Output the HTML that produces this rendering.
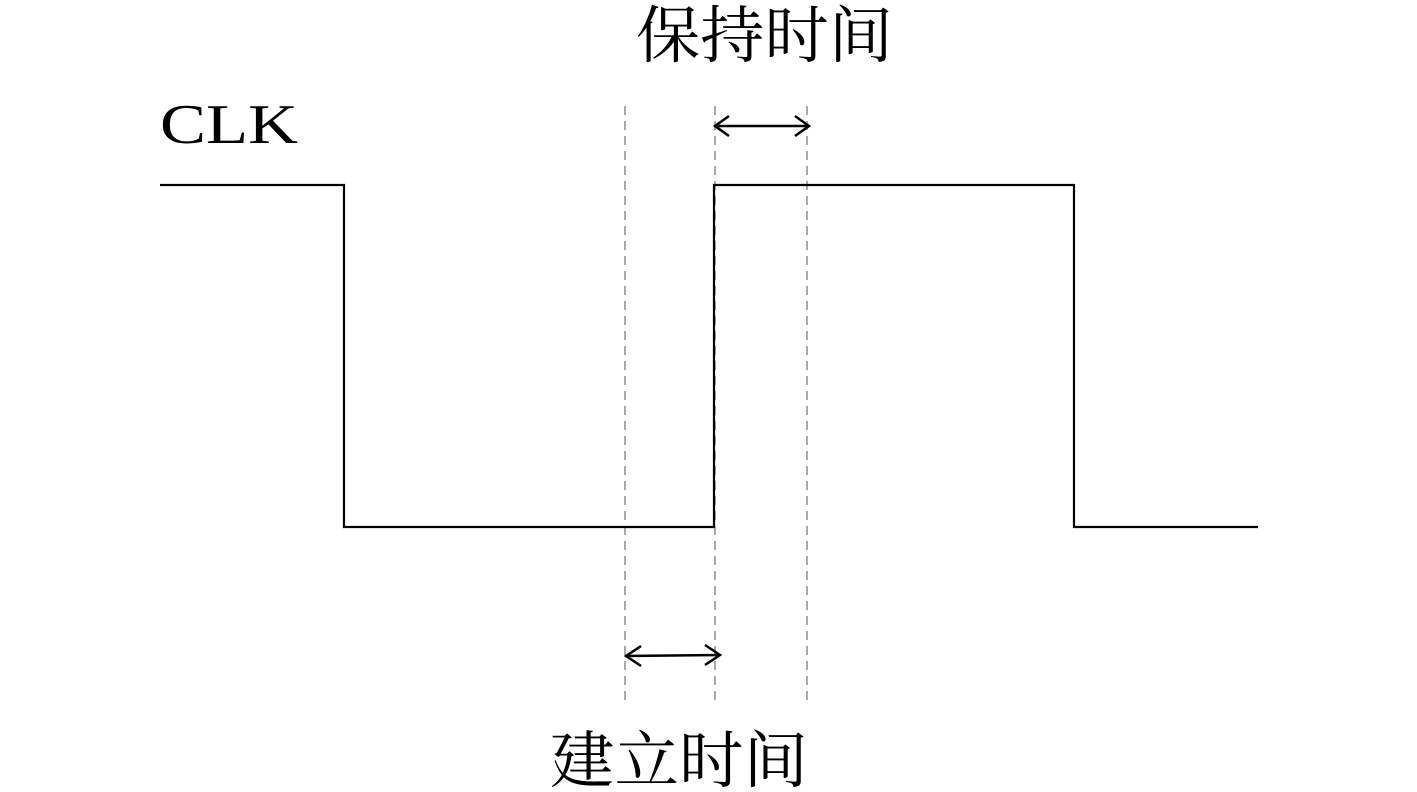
<!DOCTYPE html>
<html><head><meta charset="utf-8"><style>
html,body{margin:0;padding:0;background:#fff;}
svg{display:block}
</style></head><body>
<svg width="1417" height="792" viewBox="0 0 1417 792" xmlns="http://www.w3.org/2000/svg">
<g stroke="#aaa" stroke-width="2" stroke-dasharray="9,6" fill="none">
<line x1="625" y1="106" x2="625" y2="700"/>
<line x1="715" y1="106" x2="715" y2="700"/>
<line x1="807" y1="106" x2="807" y2="700"/>
</g>
<polyline points="160,185 344,185 344,527 714,527 714,185 1074,185 1074,527 1258,527" fill="none" stroke="#000" stroke-width="2.2"/>
<g stroke="#000" stroke-width="2.5" fill="none">
<line x1="715" y1="126" x2="809" y2="126"/>
<polyline points="729,116 715,126 729,136"/>
<polyline points="795,116 809,126 795,136"/>
<line x1="626" y1="656" x2="720" y2="655"/>
<polyline points="641,646 626,656 641,666"/>
<polyline points="705,645 720,655 705,665"/>
</g>
<text x="160" y="143" font-family="Liberation Serif, serif" font-size="56" textLength="138" lengthAdjust="spacingAndGlyphs" fill="#000">CLK</text>
<text x="636" y="57" font-family="Liberation Serif, 'Noto Serif CJK SC', serif" font-size="62" textLength="257" lengthAdjust="spacingAndGlyphs" fill="#000">保持时间</text>
<text x="550" y="782" font-family="Liberation Serif, 'Noto Serif CJK SC', serif" font-size="62" textLength="258" lengthAdjust="spacingAndGlyphs" fill="#000">建立时间</text>
</svg>
</body></html>
